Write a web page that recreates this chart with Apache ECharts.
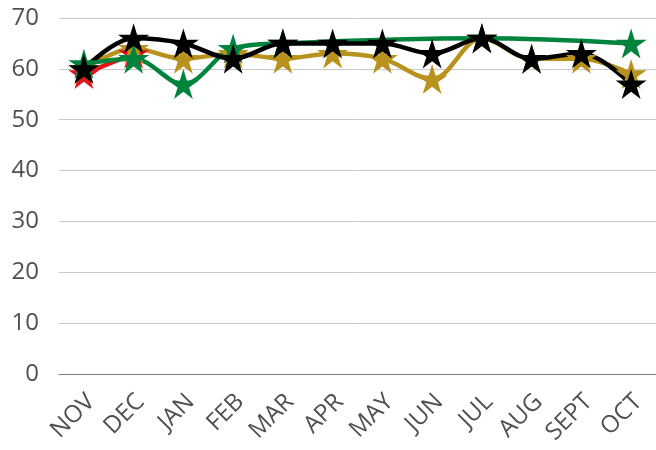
<!DOCTYPE html>
<html><head><meta charset="utf-8">
<script src="https://cdn.jsdelivr.net/npm/echarts@6/dist/echarts.min.js"></script>
<style>html,body{margin:0;padding:0;background:#fff}#c{width:656px;height:450px}</style>
</head><body><div id="c"></div>
<script>
var categories = ['NOV','DEC','JAN','FEB','MAR','APR','MAY','JUN','JUL','AUG','SEPT','OCT'];
var redValues   = [59, 63, null, null, null, null, null, null, null, null, null, null];
var goldValues  = [60, 64, 62, 63, 62, 63, 62, 58, 66, 62, 62, 59];
var greenValues = [61, 62, 57, 64, 65, null, null, null, 66, null, null, 65];
var blackValues = [60, 66, 65, 62, 65, 65, 65, 63, 66, 62, 63, 57];
var yTicks = [0, 10, 20, 30, 40, 50, 60, 70];

var star = 'path://M50,0 L61.2,36 L100,36 L68.5,58 L80.5,95 L50,72 L19.5,95 L31.5,58 L0,36 L38.8,36 Z';
function mk(name, data, color) {
  return {
    name: name, type: 'line', data: data, smooth: 0.35, connectNulls: true,
    symbol: star, symbolSize: [31, 30], showAllSymbol: true,
    lineStyle: { color: color, width: 4.5 },
    itemStyle: { color: color },
    emphasis: { disabled: true }, animation: false
  };
}
var chart = echarts.init(document.getElementById('c'));
chart.setOption({
  animation: false,
  grid: { left: 59, right: 0, top: 18, bottom: 76 },
  xAxis: {
    type: 'category', data: categories, boundaryGap: true,
    axisLine: { lineStyle: { color: '#7f7f7f', width: 1.2 } },
    axisTick: { show: false },
    axisLabel: { rotate: 45, color: '#505050', fontSize: 24, fontFamily: 'Open Sans', margin: 17, interval: 0, verticalAlign: 'top', lineHeight: 20 }
  },
  yAxis: {
    type: 'value', min: yTicks[0], max: yTicks[yTicks.length - 1], interval: 10,
    axisLine: { show: false }, axisTick: { show: false },
    splitLine: { lineStyle: { color: '#c8c8c8', width: 1 } },
    axisLabel: { color: '#505050', fontSize: 24, fontFamily: 'Open Sans', margin: 20 }
  },
  series: [
    mk('Red', redValues, '#e0161b'),
    mk('Gold', goldValues, '#b8921c'),
    mk('Green', greenValues, '#00843d'),
    mk('Black', blackValues, '#000000')
  ]
});
</script></body></html>
